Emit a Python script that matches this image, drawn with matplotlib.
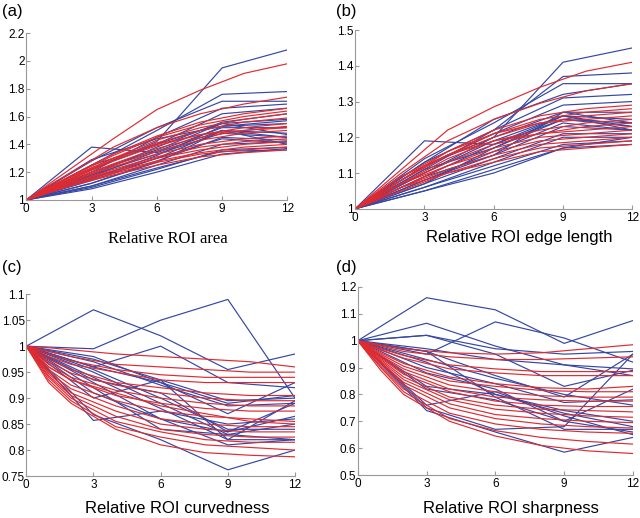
import matplotlib
matplotlib.use('Agg')
import matplotlib.pyplot as plt
import numpy as np

# sample positions
x_blue = [0, 3, 6, 9, 12]
x_red = [0, 1, 2, 4, 6, 8, 10, 12]

# (a) relative ROI area
area_blue = [
    [1, 1.38, 1.34, 1.50, 1.45],
    [1, 1.22, 1.42, 1.95, 2.08],
    [1, 1.25, 1.50, 1.76, 1.78],
    [1, 1.28, 1.52, 1.71, 1.71],
    [1, 1.20, 1.45, 1.66, 1.69],
    [1, 1.22, 1.40, 1.62, 1.66],
    [1, 1.18, 1.38, 1.56, 1.62],
    [1, 1.20, 1.36, 1.55, 1.58],
    [1, 1.15, 1.32, 1.53, 1.57],
    [1, 1.17, 1.35, 1.52, 1.52],
    [1, 1.14, 1.30, 1.50, 1.48],
    [1, 1.18, 1.33, 1.48, 1.45],
    [1, 1.12, 1.28, 1.45, 1.43],
    [1, 1.16, 1.30, 1.44, 1.41],
    [1, 1.10, 1.25, 1.40, 1.42],
    [1, 1.12, 1.27, 1.50, 1.40],
    [1, 1.09, 1.22, 1.36, 1.38],
    [1, 1.08, 1.20, 1.33, 1.37],
    [1, 1.10, 1.23, 1.35, 1.36],
    [1, 1.25, 1.40, 1.55, 1.47],
    [1, 1.29, 1.44, 1.53, 1.55],
]
area_red = [
    [1, 1.11, 1.22, 1.44, 1.65, 1.79, 1.91, 1.98],
    [1, 1.10, 1.19, 1.38, 1.52, 1.62, 1.69, 1.74],
    [1, 1.09, 1.17, 1.33, 1.46, 1.56, 1.62, 1.66],
    [1, 1.085, 1.165, 1.32, 1.45, 1.54, 1.60, 1.64],
    [1, 1.08, 1.16, 1.30, 1.43, 1.52, 1.58, 1.62],
    [1, 1.075, 1.15, 1.29, 1.41, 1.50, 1.56, 1.59],
    [1, 1.075, 1.145, 1.28, 1.39, 1.47, 1.52, 1.55],
    [1, 1.07, 1.14, 1.26, 1.37, 1.45, 1.50, 1.53],
    [1, 1.065, 1.13, 1.25, 1.35, 1.43, 1.48, 1.50],
    [1, 1.065, 1.13, 1.24, 1.33, 1.40, 1.44, 1.46],
    [1, 1.06, 1.12, 1.22, 1.31, 1.38, 1.42, 1.44],
    [1, 1.06, 1.12, 1.21, 1.30, 1.36, 1.40, 1.42],
    [1, 1.055, 1.11, 1.20, 1.28, 1.34, 1.38, 1.40],
    [1, 1.05, 1.10, 1.19, 1.27, 1.33, 1.36, 1.38],
    [1, 1.05, 1.10, 1.18, 1.25, 1.31, 1.34, 1.36],
    [1, 1.08, 1.16, 1.30, 1.40, 1.47, 1.50, 1.52],
]

# (b) relative ROI edge length
edge_blue = [
    [1, 1.19, 1.18, 1.26, 1.22],
    [1, 1.12, 1.20, 1.41, 1.45],
    [1, 1.13, 1.22, 1.37, 1.38],
    [1, 1.14, 1.24, 1.35, 1.35],
    [1, 1.13, 1.25, 1.32, 1.35],
    [1, 1.11, 1.22, 1.31, 1.32],
    [1, 1.12, 1.21, 1.29, 1.30],
    [1, 1.10, 1.20, 1.27, 1.27],
    [1, 1.10, 1.19, 1.26, 1.25],
    [1, 1.09, 1.18, 1.25, 1.24],
    [1, 1.11, 1.17, 1.26, 1.23],
    [1, 1.08, 1.16, 1.24, 1.22],
    [1, 1.08, 1.15, 1.23, 1.22],
    [1, 1.07, 1.14, 1.21, 1.21],
    [1, 1.06, 1.13, 1.20, 1.20],
    [1, 1.06, 1.12, 1.18, 1.19],
    [1, 1.05, 1.10, 1.17, 1.18],
    [1, 1.05, 1.11, 1.17, 1.20],
    [1, 1.07, 1.17, 1.25, 1.23],
    [1, 1.09, 1.15, 1.27, 1.24],
]
edge_red = [
    [1, 1.055, 1.11, 1.22, 1.285, 1.34, 1.385, 1.41],
    [1, 1.05, 1.10, 1.19, 1.25, 1.295, 1.33, 1.35],
    [1, 1.04, 1.08, 1.16, 1.22, 1.26, 1.28, 1.29],
    [1, 1.04, 1.08, 1.15, 1.21, 1.25, 1.27, 1.28],
    [1, 1.04, 1.08, 1.15, 1.20, 1.24, 1.26, 1.27],
    [1, 1.035, 1.07, 1.14, 1.19, 1.22, 1.24, 1.25],
    [1, 1.035, 1.07, 1.13, 1.18, 1.21, 1.23, 1.24],
    [1, 1.035, 1.07, 1.12, 1.17, 1.20, 1.21, 1.22],
    [1, 1.03, 1.06, 1.12, 1.16, 1.19, 1.20, 1.21],
    [1, 1.03, 1.06, 1.11, 1.15, 1.18, 1.19, 1.20],
    [1, 1.03, 1.06, 1.10, 1.14, 1.17, 1.18, 1.19],
    [1, 1.025, 1.05, 1.10, 1.13, 1.16, 1.17, 1.18],
    [1, 1.045, 1.09, 1.15, 1.19, 1.21, 1.22, 1.23],
    [1, 1.045, 1.09, 1.16, 1.21, 1.24, 1.25, 1.26],
]

# (c) relative ROI curvedness
curv_blue = [
    [1, 1.07, 1.02, 0.955, 0.985],
    [1, 0.995, 1.05, 1.09, 0.90],
    [1, 0.96, 1.0, 0.93, 0.92],
    [1, 0.98, 0.93, 0.87, 0.93],
    [1, 0.975, 0.935, 0.895, 0.90],
    [1, 0.97, 0.925, 0.885, 0.89],
    [1, 0.96, 0.93, 0.89, 0.905],
    [1, 0.955, 0.90, 0.84, 0.84],
    [1, 0.95, 0.89, 0.83, 0.85],
    [1, 0.94, 0.88, 0.82, 0.82],
    [1, 0.93, 0.86, 0.835, 0.865],
    [1, 0.92, 0.84, 0.83, 0.82],
    [1, 0.91, 0.86, 0.81, 0.82],
    [1, 0.868, 0.82, 0.762, 0.80],
    [1, 0.857, 0.875, 0.85, 0.86],
    [1, 0.90, 0.935, 0.82, 0.895],
    [1, 0.935, 0.91, 0.835, 0.89],
]
curv_red = [
    [1, 0.997, 0.993, 0.985, 0.98, 0.975, 0.97, 0.96],
    [1, 0.99, 0.98, 0.965, 0.96, 0.955, 0.95, 0.95],
    [1, 0.985, 0.972, 0.955, 0.945, 0.94, 0.94, 0.94],
    [1, 0.98, 0.965, 0.95, 0.935, 0.93, 0.93, 0.93],
    [1, 0.975, 0.955, 0.93, 0.92, 0.91, 0.905, 0.905],
    [1, 0.97, 0.948, 0.925, 0.91, 0.90, 0.895, 0.895],
    [1, 0.965, 0.94, 0.915, 0.90, 0.89, 0.885, 0.885],
    [1, 0.96, 0.935, 0.905, 0.89, 0.88, 0.875, 0.875],
    [1, 0.955, 0.925, 0.895, 0.875, 0.865, 0.86, 0.855],
    [1, 0.95, 0.918, 0.885, 0.86, 0.85, 0.845, 0.845],
    [1, 0.947, 0.91, 0.875, 0.85, 0.84, 0.835, 0.835],
    [1, 0.943, 0.905, 0.865, 0.84, 0.83, 0.825, 0.825],
    [1, 0.94, 0.90, 0.855, 0.835, 0.82, 0.815, 0.815],
    [1, 0.935, 0.895, 0.845, 0.825, 0.81, 0.805, 0.80],
    [1, 0.93, 0.89, 0.84, 0.81, 0.795, 0.79, 0.787],
    [1, 0.96, 0.935, 0.91, 0.885, 0.87, 0.855, 0.85],
]

# (d) relative ROI sharpness
sharp_blue = [
    [1, 1.16, 1.115, 0.99, 1.075],
    [1, 0.95, 1.07, 1.01, 0.92],
    [1, 1.065, 0.98, 0.91, 0.87],
    [1, 1.02, 0.95, 0.83, 0.89],
    [1, 1.02, 0.97, 0.95, 0.96],
    [1, 0.97, 0.93, 0.91, 0.895],
    [1, 0.96, 0.87, 0.79, 0.95],
    [1, 0.93, 0.86, 0.80, 0.76],
    [1, 0.92, 0.80, 0.74, 0.70],
    [1, 0.83, 0.80, 0.73, 0.68],
    [1, 0.82, 0.78, 0.70, 0.66],
    [1, 0.76, 0.81, 0.72, 0.65],
    [1, 0.74, 0.66, 0.585, 0.64],
    [1, 0.75, 0.67, 0.68, 0.95],
    [1, 0.96, 0.79, 0.67, 0.67],
    [1, 0.90, 0.84, 0.77, 0.78],
    [1, 0.88, 0.82, 0.70, 0.82],
]
sharp_red = [
    [1, 0.985, 0.97, 0.955, 0.95, 0.955, 0.97, 0.985],
    [1, 0.98, 0.96, 0.94, 0.93, 0.93, 0.935, 0.94],
    [1, 0.97, 0.945, 0.91, 0.895, 0.885, 0.885, 0.885],
    [1, 0.965, 0.935, 0.895, 0.88, 0.87, 0.87, 0.87],
    [1, 0.955, 0.915, 0.865, 0.84, 0.825, 0.82, 0.83],
    [1, 0.95, 0.905, 0.85, 0.83, 0.815, 0.81, 0.81],
    [1, 0.945, 0.895, 0.835, 0.81, 0.795, 0.79, 0.79],
    [1, 0.94, 0.885, 0.82, 0.79, 0.78, 0.775, 0.775],
    [1, 0.935, 0.875, 0.81, 0.775, 0.76, 0.755, 0.755],
    [1, 0.93, 0.865, 0.79, 0.76, 0.745, 0.74, 0.735],
    [1, 0.925, 0.855, 0.78, 0.745, 0.73, 0.72, 0.715],
    [1, 0.92, 0.845, 0.765, 0.725, 0.71, 0.70, 0.695],
    [1, 0.915, 0.835, 0.75, 0.71, 0.69, 0.68, 0.675],
    [1, 0.905, 0.82, 0.73, 0.69, 0.67, 0.66, 0.655],
    [1, 0.90, 0.81, 0.71, 0.665, 0.64, 0.625, 0.615],
    [1, 0.89, 0.80, 0.70, 0.645, 0.61, 0.59, 0.58],
]

BLUE = '#3447a3'
RED = '#e02a30'
SANS = 'Liberation Sans'

fig = plt.figure(figsize=(6.4, 5.18), dpi=100)

panels = [
    # rect, blue, red, ylim, yticks, ytick labels, label, label pos, xlabel, xlabel pos, xlabel family
    ([0.041, 0.614, 0.408, 0.322], area_blue, area_red, (1, 2.2),
     [1, 1.2, 1.4, 1.6, 1.8, 2, 2.2], ['1', '1.2', '1.4', '1.6', '1.8', '2', '2.2'],
     '(a)', (0.003, 0.977), 'Relative ROI area', (0.262, 0.539), 'Liberation Serif'),
    ([0.555, 0.597, 0.433, 0.345], edge_blue, edge_red, (1, 1.5),
     [1, 1.1, 1.2, 1.3, 1.4, 1.5], ['1', '1.1', '1.2', '1.3', '1.4', '1.5'],
     '(b)', (0.525, 0.977), 'Relative ROI edge length', (0.812, 0.542), SANS),
    ([0.041, 0.081, 0.420, 0.351], curv_blue, curv_red, (0.75, 1.1),
     [0.75, 0.8, 0.85, 0.9, 0.95, 1, 1.05, 1.1],
     ['0.75', '0.8', '0.85', '0.9', '0.95', '1', '1.05', '1.1'],
     '(c)', (0.003, 0.484), 'Relative ROI curvedness', (0.277, 0.019), SANS),
    ([0.559, 0.083, 0.430, 0.363], sharp_blue, sharp_red, (0.5, 1.2),
     [0.5, 0.6, 0.7, 0.8, 0.9, 1, 1.1, 1.2],
     ['0.5', '0.6', '0.7', '0.8', '0.9', '1', '1.1', '1.2'],
     '(d)', (0.525, 0.484), 'Relative ROI sharpness', (0.798, 0.019), SANS),
]

for rect, blues, reds, ylim, yt, ytl, lab, labpos, xlab, xlabpos, xfam in panels:
    ax = fig.add_axes(rect)
    for ys in blues:
        ax.plot(x_blue, ys, color=BLUE, lw=0.85)
    for ys in reds:
        ax.plot(x_red, ys, color=RED, lw=0.85)
    ax.set_xlim(0, 12)
    ax.set_ylim(*ylim)
    ax.set_xticks([0, 3, 6, 9, 12])
    ax.set_xticklabels(['0', '3', '6', '9', '12'], family=SANS, fontsize=8.5)
    ax.set_yticks(yt)
    ax.set_yticklabels(ytl, family=SANS, fontsize=8.5)
    for s in ['top', 'right']:
        ax.spines[s].set_visible(False)
    for s in ['left', 'bottom']:
        ax.spines[s].set_color('#999999')
        ax.spines[s].set_linewidth(0.8)
    ax.tick_params(direction='in', length=3, color='#999999', pad=1)
    ax.tick_params(axis='x', pad=2)
    fig.text(labpos[0], labpos[1], lab, family=SANS, fontsize=12, va='center', ha='left')
    fig.text(xlabpos[0], xlabpos[1], xlab, family=xfam, fontsize=12, va='center', ha='center')

fig.savefig('out.png', dpi=100)
